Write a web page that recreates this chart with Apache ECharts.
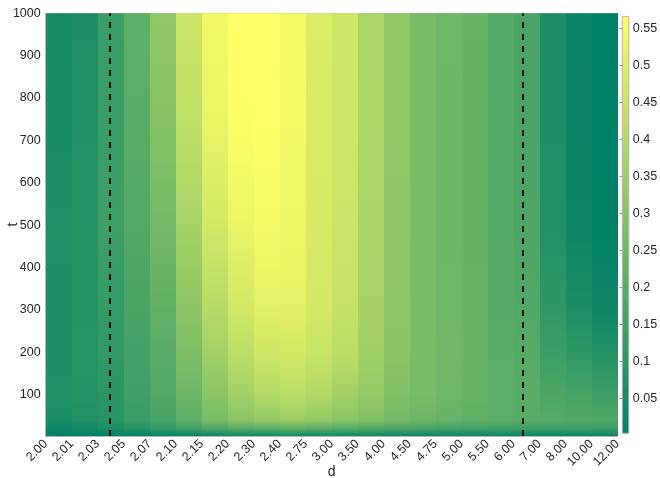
<!DOCTYPE html>
<html><head><meta charset="utf-8">
<script src="https://cdn.jsdelivr.net/npm/echarts@6/dist/echarts.min.js"></script>
<style>html,body{margin:0;padding:0;background:#fff}#c{width:660px;height:478px}</style>
</head><body><div id="c"></div>
<script>
// x tick labels (cell edges)
const dLabels = ['2.00','2.01','2.03','2.05','2.07','2.10','2.15','2.20','2.30','2.40','2.75','3.00','3.50','4.00','4.50','4.75','5.00','5.50','6.00','7.00','8.00','10.00','12.00'];
// t sample rows (bottom to top)
const tSamples = [2, 10, 20, 40, 100, 200, 300, 500, 750, 1000];
// values per cell (22 cells between the 23 d labels) at each t sample
const v_t2    = [0.003,0.003,0.007,0.012,0.016,0.025,0.034,0.043,0.047,0.052,0.047,0.043,0.038,0.034,0.029,0.027,0.025,0.025,0.025,0.025,0.025,0.025];
const v_t10   = [0.014,0.021,0.029,0.038,0.052,0.069,0.087,0.100,0.109,0.113,0.109,0.102,0.096,0.087,0.082,0.078,0.076,0.074,0.071,0.069,0.069,0.067];
const v_t20   = [0.036,0.047,0.065,0.087,0.113,0.147,0.180,0.202,0.213,0.219,0.213,0.202,0.191,0.175,0.166,0.158,0.153,0.147,0.144,0.140,0.140,0.135];
const v_t40   = [0.065,0.076,0.091,0.127,0.162,0.213,0.268,0.308,0.334,0.345,0.330,0.308,0.286,0.257,0.241,0.228,0.219,0.206,0.202,0.193,0.188,0.180];
const v_t100  = [0.071,0.085,0.100,0.142,0.184,0.244,0.310,0.363,0.398,0.414,0.394,0.363,0.332,0.290,0.264,0.246,0.233,0.208,0.202,0.171,0.158,0.135];
const v_t200  = [0.069,0.087,0.111,0.153,0.202,0.281,0.361,0.420,0.460,0.471,0.447,0.418,0.361,0.310,0.270,0.250,0.235,0.204,0.193,0.133,0.105,0.078];
const v_t300  = [0.067,0.085,0.120,0.164,0.219,0.312,0.403,0.467,0.502,0.506,0.471,0.440,0.372,0.314,0.270,0.246,0.233,0.197,0.184,0.107,0.067,0.034];
const v_t500  = [0.071,0.085,0.138,0.186,0.255,0.370,0.469,0.520,0.542,0.528,0.478,0.451,0.378,0.319,0.270,0.244,0.230,0.191,0.171,0.076,0.032,0.005];
const v_t750  = [0.060,0.074,0.131,0.202,0.303,0.427,0.520,0.562,0.564,0.542,0.482,0.460,0.383,0.323,0.270,0.244,0.228,0.186,0.166,0.067,0.025,0.003];
const v_t1000 = [0.052,0.069,0.131,0.211,0.323,0.451,0.537,0.566,0.566,0.544,0.489,0.460,0.381,0.323,0.268,0.246,0.233,0.188,0.166,0.067,0.021,0.003];
const tTicks = [100,200,300,400,500,600,700,800,900,1000];
const cbTicks = [0.05,0.1,0.15,0.2,0.25,0.3,0.35,0.4,0.45,0.5,0.55];
const cMin = 0.003, cMax = 0.566;
const dashedAt = [2.47, 18.35]; // positions in cell-index units

const rows = [v_t2, v_t10, v_t20, v_t40, v_t100, v_t200, v_t300, v_t500, v_t750, v_t1000];

function summer(v) {
  let n = (v - cMin) / (cMax - cMin);
  n = Math.max(0, Math.min(1, n));
  const r = Math.round(255 * n), g = Math.round(127.5 + 127.5 * n), b = 102;
  return 'rgb(' + r + ',' + g + ',' + b + ')';
}

const cells = [];
for (let c = 0; c < dLabels.length - 1; c++) {
  for (let k = 0; k < tSamples.length - 1; k++) {
    cells.push([c, tSamples[k], tSamples[k + 1], rows[k][c], rows[k + 1][c]]);
  }
}

const font = 'Liberation Sans, Arial, Helvetica, sans-serif';
const txt = '#262626';
const edge = '#b4b4b4';

const chart = echarts.init(document.getElementById('c'), null, {renderer: 'canvas'});
chart.setOption({
  animation: false,
  backgroundColor: '#fff',
  textStyle: {fontFamily: font},
  grid: [
    {left: 45.7, right: 42.5, top: 13.3, bottom: 42, containLabel: false, outerBoundsMode: 'none'},
    {left: 622.3, width: 6.5, top: 16.7, height: 416.6, containLabel: false, outerBoundsMode: 'none'}
  ],
  xAxis: [
    {type: 'value', gridIndex: 0, min: 0, max: dLabels.length - 1, interval: 1,
     name: 'd', nameLocation: 'middle', nameGap: 29, nameMoveOverlap: false,
     nameTextStyle: {color: txt, fontSize: 14, fontFamily: font},
     axisLine: {show: true, lineStyle: {color: edge, width: 1}},
     axisTick: {show: false}, splitLine: {show: false},
     axisLabel: {rotate: 45, color: txt, fontSize: 12.5, fontFamily: font, margin: 6,
       formatter: function (v) { return dLabels[Math.round(v)] || ''; }}},
    {type: 'value', gridIndex: 0, position: 'top', min: 0, max: dLabels.length - 1,
     axisLine: {show: true, lineStyle: {color: edge, width: 1}}, axisTick: {show: false},
     axisLabel: {show: false}, splitLine: {show: false}},
    {type: 'value', gridIndex: 1, min: 0, max: 1, show: false}
  ],
  yAxis: [
    {type: 'value', gridIndex: 0, min: tSamples[0], max: 1000,
     name: 't', nameLocation: 'middle', nameGap: 26, nameMoveOverlap: false,
     nameTextStyle: {color: txt, fontSize: 14, fontFamily: font},
     axisLine: {show: true, lineStyle: {color: edge, width: 1}},
     axisTick: {show: false}, splitLine: {show: false},
     axisLabel: {color: txt, fontSize: 12.5, fontFamily: font, margin: 5, customValues: tTicks,
       formatter: function (v) { return String(v); }}},
    {type: 'value', gridIndex: 0, position: 'right', min: tSamples[0], max: 1000,
     axisLine: {show: true, lineStyle: {color: edge, width: 1}}, axisTick: {show: false},
     axisLabel: {show: false}, splitLine: {show: false}},
    {type: 'value', gridIndex: 1, position: 'right', min: cMin, max: cMax,
     axisLine: {show: false}, splitLine: {show: false},
     axisTick: {show: true, inside: true, length: 3, lineStyle: {color: '#999', width: 1}, customValues: cbTicks},
     axisLabel: {color: txt, fontSize: 12.5, fontFamily: font, margin: 4, customValues: cbTicks,
       formatter: function (v) { return String(v); }}}
  ],
  series: [
    {
      type: 'custom', xAxisIndex: 0, yAxisIndex: 0, clip: true, z: 1,
      data: cells,
      renderItem: function (params, api) {
        const c = api.value(0), t0 = api.value(1), t1 = api.value(2);
        const p0 = api.coord([c, t1]);
        const p1 = api.coord([c + 1, t0]);
        const x0 = Math.round(p0[0]), x1 = Math.round(p1[0]);
        const y0 = Math.round(p0[1]), y1 = Math.round(p1[1]);
        return {
          type: 'rect',
          shape: {x: x0, y: y0, width: x1 - x0, height: y1 - y0},
          style: {fill: new echarts.graphic.LinearGradient(0, 0, 0, 1, [
            {offset: 0, color: summer(api.value(4))},
            {offset: 1, color: summer(api.value(3))}
          ])}
        };
      },
      markLine: {
        silent: true, symbol: ['none', 'none'], label: {show: false},
        lineStyle: {color: '#000', type: [6, 6], width: 1.8},
        data: dashedAt.map(function (x) { return {xAxis: x}; })
      }
    },
    {
      type: 'custom', xAxisIndex: 2, yAxisIndex: 2, z: 1,
      data: [[0, cMin, cMax]],
      renderItem: function (params, api) {
        const p0 = api.coord([0, api.value(2)]);
        const p1 = api.coord([1, api.value(1)]);
        return {
          type: 'rect',
          shape: {x: p0[0], y: p0[1], width: p1[0] - p0[0], height: p1[1] - p0[1]},
          style: {fill: new echarts.graphic.LinearGradient(0, 0, 0, 1, [
            {offset: 0, color: summer(cMax)},
            {offset: 1, color: summer(cMin)}
          ]), stroke: edge, lineWidth: 1}
        };
      }
    }
  ]
});
</script>
</body></html>
